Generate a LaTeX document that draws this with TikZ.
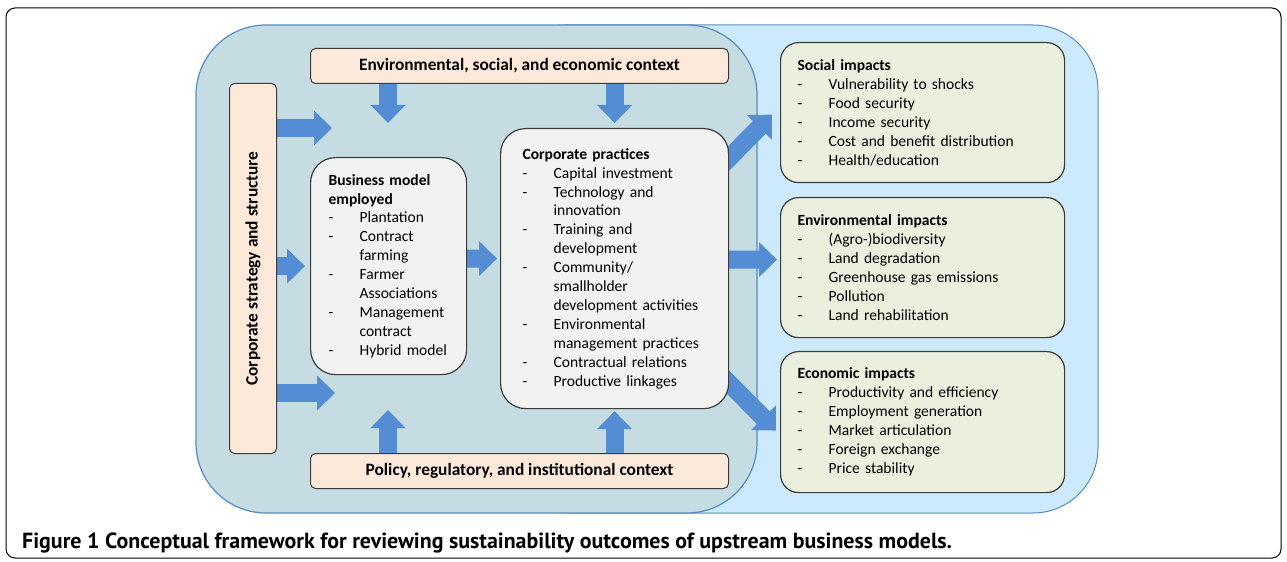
\documentclass[tikz,border=0pt]{standalone}
\usepackage{fontspec}
\setmainfont{Carlito}
\newfontfamily\capfont{PT Sans}
\usetikzlibrary{arrows.meta,backgrounds,calc}
\definecolor{pteal}{RGB}{197,221,226}
\definecolor{pblue}{RGB}{204,234,251}
\definecolor{pborder}{RGB}{85,140,195}
\definecolor{peach}{RGB}{253,233,218}
\definecolor{boxgray}{RGB}{242,242,242}
\definecolor{impgreen}{RGB}{235,239,222}
\definecolor{arrowblue}{RGB}{84,141,212}
\definecolor{edgegray}{RGB}{60,60,60}
\newcommand\dd{\makebox[31bp][l]{-}}
\newcommand\cc{\hspace*{31bp}}
\begin{document}
\begin{tikzpicture}[x=1bp,y=-1bp,
  font=\fontsize{15.6}{19}\selectfont,
  ctx/.style={draw=edgegray, line width=1bp, fill=peach, rounded corners=5bp, anchor=north west, inner sep=0pt,
              font=\fontsize{17.4}{21}\selectfont\bfseries},
  listbox/.style={draw=edgegray, line width=1.2bp, align=left, anchor=north west, inner ysep=0pt},
  impact/.style={listbox, fill=impgreen, rounded corners=18bp, minimum width=284bp, text width=250bp, inner xsep=17bp},
  barrow/.style={draw=arrowblue, line width=18bp, -{Triangle[width=34bp,length=18bp]}}]
\useasboundingbox (0,0) rectangle (1287,562);
\draw[line width=1bp, rounded corners=9bp] (6,8) rectangle (1281,558);

% nodes
\node[ctx, minimum width=418bp, minimum height=35bp] (env) at (310,48) {Environmental, social, and economic context};
\node[ctx, minimum width=418bp, minimum height=35bp] (pol) at (310,453) {Policy, regulatory, and institutional context};
\node[ctx, minimum width=47bp, minimum height=370bp] (strat) at (229,83) {\rotatebox{90}{Corporate strategy and structure}};

\node[listbox, fill=boxgray, rounded corners=25bp, minimum height=217bp, text width=120bp, inner xsep=18bp] (bm) at (310,157)
 {\textbf{Business model}\\ \textbf{employed}\\ \dd Plantation\\ \dd Contract\\ \cc farming\\ \dd Farmer\\ \cc Associations\\ \dd Management\\ \cc contract\\ \dd Hybrid model};

\node[listbox, fill=boxgray, rounded corners=25bp, minimum height=280bp, text width=184bp, inner xsep=22bp] (cp) at (500,128)
 {\textbf{Corporate practices}\\ \dd Capital investment\\ \dd Technology and\\ \cc innovation\\ \dd Training and\\ \cc development\\ \dd Community/\\ \cc smallholder\\ \cc development activities\\ \dd Environmental\\ \cc management practices\\ \dd Contractual relations\\ \dd Productive linkages};

\node[impact, minimum height=140bp] (soc) at (780,42)
 {\textbf{Social impacts}\\ \dd Vulnerability to shocks\\ \dd Food security\\ \dd Income security\\ \dd Cost and benefit distribution\\ \dd Health/education};
\node[impact, minimum height=140bp] (envi) at (780,197)
 {\textbf{Environmental impacts}\\ \dd (Agro-)biodiversity\\ \dd Land degradation\\ \dd Greenhouse gas emissions\\ \dd Pollution\\ \dd Land rehabilitation};
\node[impact, minimum height=141bp] (eco) at (780,351)
 {\textbf{Economic impacts}\\ \dd Productivity and efficiency\\ \dd Employment generation\\ \dd Market articulation\\ \dd Foreign exchange\\ \dd Price stability};

\node[anchor=base west, inner sep=0pt, font=\capfont\bfseries\fontsize{22}{24}\selectfont] (cap) at (22,548)
 {Figure 1 Conceptual framework for reviewing sustainability outcomes of upstream business models.};

% free ends
\coordinate (t1) at (332,128);
\coordinate (t2) at (335,393);
\coordinate (t3) at (388,123);
\coordinate (t4) at (388,410);

\begin{pgfonlayer}{background}
  \draw[fill=pblue, draw=pborder, line width=1bp, rounded corners=65bp] (500,25) rectangle (1098,513);
  \draw[fill=pteal, draw=pborder, line width=1.2bp, rounded corners=70bp] (196,25) rectangle (757,513);
  \draw[barrow] (strat.east |- t1) -- (t1);
  \draw[barrow] (strat.east |- bm.west) -- ([xshift=-5bp]bm.west);
  \draw[barrow] (strat.east |- t2) -- (t2);
  \draw[barrow] (env.south -| t3) -- (t3);
  \draw[barrow] (env.south -| cp.north) -- ([yshift=5bp]cp.north);
  \draw[barrow] (pol.north -| t4) -- (t4);
  \draw[barrow] (pol.north -| cp.south) -- ([yshift=-2bp]cp.south);
  \draw[barrow] ($(bm.east)+(0,-7.5)$) -- ($(cp.west)+(-3,-10)$);
  \draw[barrow] ($(cp.east)+(0,-9)$) -- ($(envi.west)+(-3,-8)$);
  \draw[barrow] ($(cp.north east)+(-8,38)$) -- ($(soc.west)+(-8,2)$);
  \draw[barrow] ($(cp.south east)+(-10,-36)$) -- ($(eco.west)+(-4,8.5)$);
\end{pgfonlayer}
\end{tikzpicture}
\end{document}
